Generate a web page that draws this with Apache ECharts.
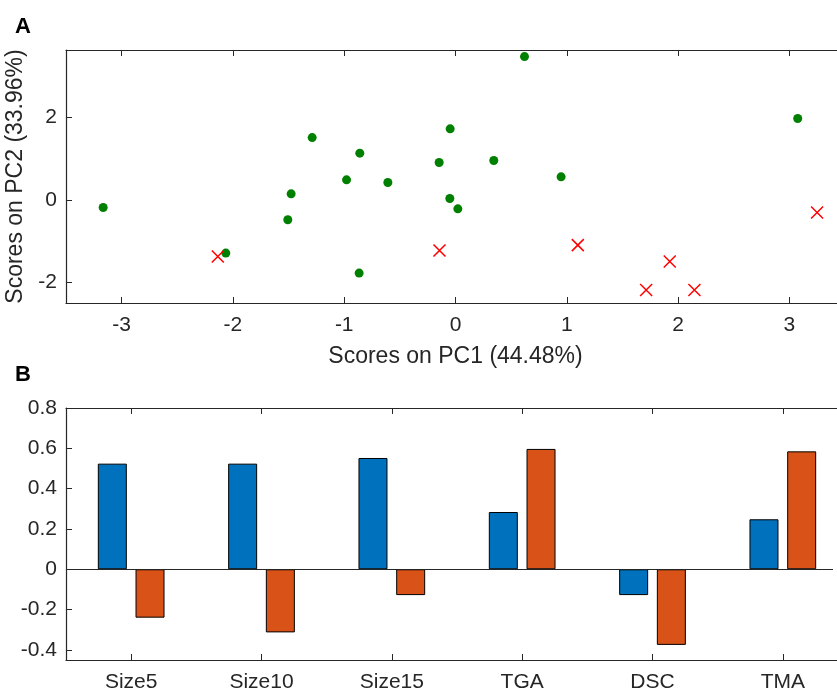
<!DOCTYPE html>
<html>
<head>
<meta charset="utf-8">
<script src="https://cdn.jsdelivr.net/npm/echarts@6/dist/echarts.min.js"></script>
<style>
html,body{margin:0;padding:0;background:#fff;overflow:hidden;}
#wrap{position:relative;width:837px;height:691px;overflow:hidden;}
#chart{width:837px;height:691px;}
.mask{position:absolute;left:833px;width:4px;background:#fff;z-index:10;}
</style>
</head>
<body>
<div id="wrap">
<div id="chart"></div>
<div class="mask" style="top:52px;height:249px;"></div>
<div class="mask" style="top:410px;height:248px;"></div>
</div>
<script>
// ---- Panel A: PCA scores ----
const xTicksA = [-3, -2, -1, 0, 1, 2, 3];
const yTicksA = [-2, 0, 2];
const greenScores = [
  [-3.166, -0.186], [-1.288, 1.508], [-0.860, 1.130], [-0.979, 0.484],
  [-0.608, 0.420], [-1.477, 0.145], [-1.507, -0.484], [-2.064, -1.290],
  [-0.866, -1.775], [0.620, 3.470], [-0.048, 1.720], [-0.147, 0.903],
  [0.344, 0.952], [0.949, 0.557], [-0.051, 0.032], [0.021, -0.218],
  [3.075, 1.969]
];
const redScores = [
  [-2.136, -1.372], [-0.144, -1.227], [1.099, -1.098], [1.925, -1.493],
  [1.713, -2.187], [2.147, -2.187], [3.249, -0.307]
];
const xNameA = 'Scores on PC1 (44.48%)';
const yNameA = 'Scores on PC2 (33.96%)';

// ---- Panel B: loadings ----
const categories = ['Size5', 'Size10', 'Size15', 'TGA', 'DSC', 'TMA'];
const pc1Loadings = [0.524, 0.524, 0.552, 0.284, -0.128, 0.248];
const pc2Loadings = [-0.240, -0.313, -0.128, 0.597, -0.375, 0.585];
const yTicksB = [-0.4, -0.2, 0, 0.2, 0.4, 0.6, 0.8];

const AX = '#262626';
const FONT = 'Liberation Sans';
const tickFont = {fontFamily: FONT, fontSize: 21, color: AX};
const tickStyle = {color: AX, width: 1};
const lineStyle = {color: AX, width: 1.2};

const chart = echarts.init(document.getElementById('chart'), null, {renderer: 'canvas'});

const option = {
  animation: false,
  backgroundColor: '#fff',
  title: [
    {text: 'A', left: 10, top: 11, textStyle: {fontFamily: FONT, fontWeight: 'bold', fontSize: 22, color: '#000'}},
    {text: 'B', left: 10, top: 359, textStyle: {fontFamily: FONT, fontWeight: 'bold', fontSize: 22, color: '#000'}}
  ],
  grid: [
    {left: 66, top: 50, width: 779, height: 253, containLabel: false, outerBoundsMode: 'none', show: false},
    {left: 66, top: 408, width: 782, height: 252, containLabel: false, outerBoundsMode: 'none', show: false}
  ],
  xAxis: [
    {
      type: 'value', gridIndex: 0, min: -3.5, max: 3.5, position: 'bottom',
      name: xNameA, nameLocation: 'middle', nameGap: 42,
      nameTextStyle: {fontFamily: FONT, fontSize: 23, color: AX},
      axisLine: {show: true, onZero: false, lineStyle: lineStyle}, splitLine: {show: false},
      axisTick: {show: true, inside: true, length: 6, lineStyle: tickStyle, customValues: xTicksA},
      axisLabel: Object.assign({margin: 12, customValues: xTicksA}, tickFont)
    },
    {
      type: 'value', gridIndex: 0, min: -3.5, max: 3.5, position: 'top',
      axisLine: {show: true, onZero: false, lineStyle: lineStyle}, splitLine: {show: false},
      axisTick: {show: true, inside: true, length: 6, lineStyle: tickStyle, customValues: xTicksA},
      axisLabel: {show: false}
    },
    {
      type: 'category', gridIndex: 1, data: categories, position: 'bottom',
      axisLine: {show: true, onZero: false, lineStyle: lineStyle}, splitLine: {show: false},
      axisTick: {show: true, inside: true, length: 6, alignWithLabel: true, lineStyle: tickStyle},
      axisLabel: Object.assign({margin: 12}, tickFont)
    },
    {
      type: 'category', gridIndex: 1, data: categories, position: 'top',
      axisLine: {show: true, onZero: false, lineStyle: lineStyle}, splitLine: {show: false},
      axisTick: {show: true, inside: true, length: 6, alignWithLabel: true, lineStyle: tickStyle},
      axisLabel: {show: false}
    }
  ],
  yAxis: [
    {
      type: 'value', gridIndex: 0, min: -2.5, max: 3.63, position: 'left',
      name: yNameA, nameLocation: 'middle', nameGap: 31,
      nameTextStyle: {fontFamily: FONT, fontSize: 23, color: AX},
      axisLine: {show: true, onZero: false, lineStyle: lineStyle}, splitLine: {show: false},
      axisTick: {show: true, inside: true, length: 6, lineStyle: tickStyle, customValues: yTicksA},
      axisLabel: Object.assign({margin: 9, customValues: yTicksA}, tickFont)
    },
    {
      type: 'value', gridIndex: 1, min: -0.45, max: 0.8, position: 'left',
      axisLine: {show: true, onZero: false, lineStyle: lineStyle}, splitLine: {show: false},
      axisTick: {show: true, inside: true, length: 6, lineStyle: tickStyle, customValues: yTicksB},
      axisLabel: Object.assign({margin: 9, customValues: yTicksB}, tickFont)
    }
  ],
  series: [
    {
      type: 'scatter', xAxisIndex: 0, yAxisIndex: 0, data: greenScores,
      symbol: 'circle', symbolSize: 9, itemStyle: {color: '#008000', opacity: 1}
    },
    {
      type: 'scatter', xAxisIndex: 0, yAxisIndex: 0, data: redScores,
      symbol: 'path://M0,0L10,10M10,0L0,10', symbolSize: 12,
      itemStyle: {color: 'none', borderColor: '#ff0000', borderWidth: 1.5, opacity: 1}
    },
    {
      type: 'bar', xAxisIndex: 2, yAxisIndex: 1, data: pc1Loadings,
      barWidth: 29, barGap: '30%',
      itemStyle: {color: '#0072BD', borderColor: '#000', borderWidth: 1},
      markLine: {
        silent: true, symbol: 'none', label: {show: false},
        lineStyle: {color: AX, width: 1, type: 'solid'},
        data: [{yAxis: 0}]
      }
    },
    {
      type: 'bar', xAxisIndex: 2, yAxisIndex: 1, data: pc2Loadings,
      barWidth: 29, barGap: '30%',
      itemStyle: {color: '#D95319', borderColor: '#000', borderWidth: 1}
    }
  ]
};
chart.setOption(option);
</script>
</body>
</html>
